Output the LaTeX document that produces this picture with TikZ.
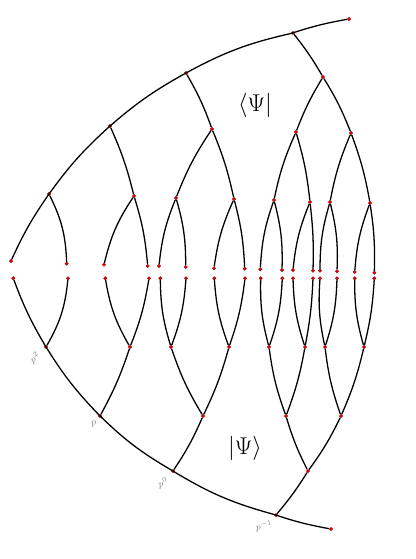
\documentclass[tikz,border=0pt]{standalone}
\usepackage{amsmath}
\usepackage{amssymb}
\usepackage{tikz}
\tikzstyle{dot} = [circle, fill=red!90!black, draw=red!50!black, line width=0.2pt, inner sep=0pt, minimum size=3pt]
\tikzstyle{tag} = [text=gray, font=\footnotesize, inner sep=1pt]
\tikzstyle{edge} = [line width=1.1pt]

\begin{document}
\begin{tikzpicture}[x=0.3mm, y=-0.3mm]
	\useasboundingbox (0,0) rectangle (416,559);
	% leaves
	\foreach \n/\x/\y in {1/11/261, 2/66.7/263.7, 3/104/264.7, 4/147.7/266, 5/159/266, 6/185.7/267, 7/214/268.3, 8/244.7/268.7, 9/260.3/269.3, 10/282/270, 11/293/270, 12/313/270.7, 13/320/270.7, 14/337/271.3, 15/354.7/272, 16/374.3/272.7}
		\node[dot] (tx\n) at (\x,\y) {};
	\foreach \n/\x in {1/13.3, 2/68, 3/105.3, 4/149, 5/160.3, 6/186, 7/214.3, 8/245, 9/260.7, 10/282.3, 11/293, 12/313, 13/320, 14/337, 15/354.7, 16/374.3}
		\node[dot] (bx\n) at (\x,278.3) {};
	
	% top tree
	\node[dot] (ta0) at (349,19) {};
	\node[dot] (ta1) at (293,33) {};
	\node[dot] (ta2) at (186,73) {};
	\node[dot] (ta3) at (110,126) {};
	\node[dot] (ta4) at (49,194) {};
	\node[dot] (tn1) at (323,77) {};
	\node[dot] (tn11) at (296,132) {};
	\node[dot] (tn12) at (351,133) {};
	\node[dot] (tn111) at (274,200) {};
	\node[dot] (tn112) at (310,202) {};
	\node[dot] (tn121) at (330,202) {};
	\node[dot] (tn122) at (370,203) {};
	\node[dot] (tm1) at (212,129) {};
	\node[dot] (tm11) at (176,198) {};
	\node[dot] (tm12) at (234,199) {};
	\node[dot] (tk1) at (134,196) {};
	
	% bottom tree
	\node[dot] (bp2) at (46,347) {};
	\node[dot] (bp1) at (100,416) {};
	\node[dot] (bp0) at (173,471) {};
	\node[dot] (bpm) at (276,515) {};
	\node[dot] (bb0) at (331,529) {};
	\node[dot] (bk1) at (130,347) {};
	\node[dot] (bm1) at (203,416) {};
	\node[dot] (bm11) at (171,347) {};
	\node[dot] (bm12) at (229,347) {};
	\node[dot] (bn1) at (308,471) {};
	\node[dot] (bn11) at (286,416) {};
	\node[dot] (bn12) at (341,416) {};
	\node[dot] (bn111) at (269,347) {};
	\node[dot] (bn112) at (305,347) {};
	\node[dot] (bn121) at (325,347) {};
	\node[dot] (bn122) at (364,347) {};
	
	% labels
	\node[tag, rotate=35] (lp2) at (35,358) {$p^2$};
	\node[tag, rotate=10] (lp1) at (94,424) {$p$};
	\node[tag, rotate=15] (lp0) at (163,483) {$p^0$};
	\node[tag, rotate=8] (lpm) at (264,526) {$p^{-1}$};
	\node[font=\huge] (bra) at (255,105) {$\langle\Psi|$};
	\node[font=\huge] (ket) at (245,448) {$|\Psi\rangle$};
	
	%top edges
	\draw[edge] (tx1) to[bend left=5] (ta4) to[bend left=6] (ta3) to[bend left=6] (ta2) to[bend left=8] (ta1) to[bend left=4] (ta0);
	\draw[edge] (ta4) to[bend left=12] (tx2);
	\draw[edge] (ta3) to[bend left=5] (tk1);
	\draw[edge] (tk1) to[bend right=10] (tx3);
	\draw[edge] (tk1) to[bend left=6] (tx4);
	\draw[edge] (ta2) to[bend left=5] (tm1);
	\draw[edge] (tm1) to[bend right=6] (tm11);
	\draw[edge] (tm1) to[bend left=5] (tm12);
	\draw[edge] (tm11) to[bend right=8] (tx5);
	\draw[edge] (tm11) to[bend left=8] (tx6);
	\draw[edge] (tm12) to[bend right=8] (tx7);
	\draw[edge] (tm12) to[bend left=6] (tx8);
	\draw[edge] (ta1) to[bend left=4] (tn1);
	\draw[edge] (tn1) to[bend right=5] (tn11);
	\draw[edge] (tn1) to[bend left=5] (tn12);
	\draw[edge] (tn11) to[bend right=6] (tn111);
	\draw[edge] (tn11) to[bend left=5] (tn112);
	\draw[edge] (tn12) to[bend right=6] (tn121);
	\draw[edge] (tn12) to[bend left=5] (tn122);
	\draw[edge] (tn111) to[bend right=8] (tx9);
	\draw[edge] (tn111) to[bend left=8] (tx10);
	\draw[edge] (tn112) to[bend right=8] (tx11);
	\draw[edge] (tn112) to[bend left=4] (tx12);
	\draw[edge] (tn121) to[bend right=8] (tx13);
	\draw[edge] (tn121) to[bend left=8] (tx14);
	\draw[edge] (tn122) to[bend right=8] (tx15);
	\draw[edge] (tn122) to[bend left=5] (tx16);
	
	%bottom edges
	\draw[edge] (bx1) to[bend right=5] (bp2) to[bend right=6] (bp1) to[bend right=7] (bp0) to[bend right=8] (bpm) to[bend right=4] (bb0);
	\draw[edge] (bp2) to[bend right=12] (bx2);
	\draw[edge] (bp1) to[bend right=5] (bk1);
	\draw[edge] (bk1) to[bend left=10] (bx3);
	\draw[edge] (bk1) to[bend right=6] (bx4);
	\draw[edge] (bp0) to[bend right=5] (bm1);
	\draw[edge] (bm1) to[bend left=6] (bm11);
	\draw[edge] (bm1) to[bend right=5] (bm12);
	\draw[edge] (bm11) to[bend left=8] (bx5);
	\draw[edge] (bm11) to[bend right=8] (bx6);
	\draw[edge] (bm12) to[bend left=8] (bx7);
	\draw[edge] (bm12) to[bend right=6] (bx8);
	\draw[edge] (bpm) to[bend right=4] (bn1);
	\draw[edge] (bn1) to[bend left=5] (bn11);
	\draw[edge] (bn1) to[bend right=5] (bn12);
	\draw[edge] (bn11) to[bend left=6] (bn111);
	\draw[edge] (bn11) to[bend right=5] (bn112);
	\draw[edge] (bn12) to[bend left=6] (bn121);
	\draw[edge] (bn12) to[bend right=5] (bn122);
	\draw[edge] (bn111) to[bend left=8] (bx9);
	\draw[edge] (bn111) to[bend right=8] (bx10);
	\draw[edge] (bn112) to[bend left=8] (bx11);
	\draw[edge] (bn112) to[bend right=4] (bx12);
	\draw[edge] (bn121) to[bend left=8] (bx13);
	\draw[edge] (bn121) to[bend right=8] (bx14);
	\draw[edge] (bn122) to[bend left=8] (bx15);
	\draw[edge] (bn122) to[bend right=5] (bx16);
\end{tikzpicture}
\end{document}
